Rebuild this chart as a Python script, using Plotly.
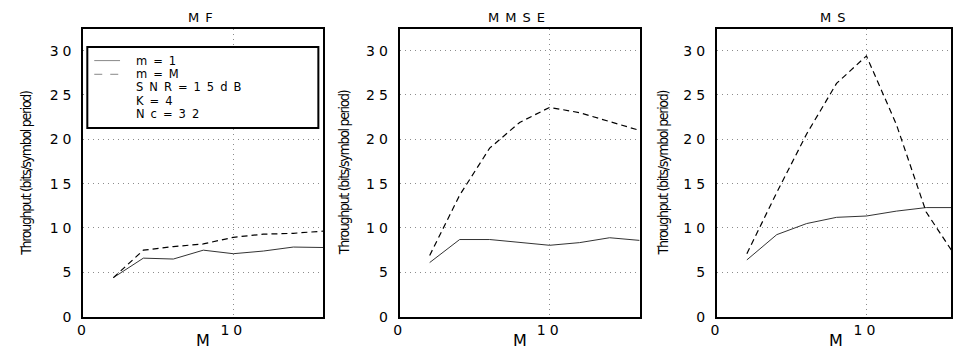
import plotly.graph_objects as go

# ---- data ----
M_vals = [2, 4, 6, 8, 10, 12, 14, 16]
panel_titles = ["MF", "MMSE", "MS"]
mf_m1 = [4.4, 6.6, 6.5, 7.5, 7.1, 7.4, 7.85, 7.8]
mf_mM = [4.4, 7.5, 7.9, 8.2, 8.95, 9.3, 9.4, 9.65]
mmse_m1 = [6.1, 8.7, 8.7, 8.4, 8.05, 8.35, 8.9, 8.6]
mmse_mM = [6.9, 13.7, 19.0, 21.9, 23.6, 23.0, 22.0, 21.0]
ms_m1 = [6.4, 9.25, 10.5, 11.2, 11.35, 11.9, 12.3, 12.3]
ms_mM = [7.1, 14.0, 20.6, 26.3, 29.4, 21.7, 11.8, 6.7]
y_ticks = [0, 5, 10, 15, 20, 25, 30]
x_ticks = [0, 10]
legend_lines = ["m=1", "m=M", "SNR=15dB", "K=4", "Nc=32"]
y_title = "Throughput (bits/symbol period)"
x_title = "M"

W, H = 953, 354
series = [(mf_m1, mf_mM), (mmse_m1, mmse_mM), (ms_m1, ms_mM)]

fig = go.Figure()

def px_x(p):
    return p / W

def px_y(p):
    return 1 - p / H

x_domains = [[px_x(78), px_x(320)], [px_x(397), px_x(639)], [px_x(717), 1.0]]
x_ranges = [[0, 16], [0, 16], [0, 15.66]]
y_dom = [px_y(324), px_y(30)]
y_range = [0, 32.4]

FONT = "DejaVu Sans"
TICKFONT = dict(family=FONT, size=14, color="black")

def spaced(t, ls=3):
    return f'<span style="letter-spacing:{ls}px">{t}</span>'

for i, (s1, s2) in enumerate(series):
    xa = "x" if i == 0 else f"x{i+1}"
    ya = "y" if i == 0 else f"y{i+1}"
    fig.add_trace(go.Scatter(x=M_vals, y=s1, mode="lines", xaxis=xa, yaxis=ya,
                             line=dict(color="#333333", width=1), showlegend=False))
    fig.add_trace(go.Scatter(x=M_vals, y=s2, mode="lines", xaxis=xa, yaxis=ya,
                             line=dict(color="black", width=1.2, dash="6px,4px"),
                             showlegend=False))
    axkey_x = "xaxis" if i == 0 else f"xaxis{i+1}"
    axkey_y = "yaxis" if i == 0 else f"yaxis{i+1}"
    fig.update_layout(**{
        axkey_x: dict(domain=x_domains[i], range=x_ranges[i], anchor=ya,
                      tickvals=x_ticks, ticktext=[spaced(str(v), 4) for v in x_ticks],
                      showline=True, linecolor="black", linewidth=2, mirror=True,
                      showgrid=True, gridcolor="#8c8c8c", gridwidth=1, griddash="1px,4px",
                      zeroline=False, ticks="", tickfont=TICKFONT, ticklabelstandoff=0),
        axkey_y: dict(domain=y_dom, range=y_range, anchor=xa,
                      tickvals=y_ticks, ticktext=[spaced(str(v), 4) for v in y_ticks],
                      showline=True, linecolor="black", linewidth=2, mirror=True,
                      showgrid=True, gridcolor="#8c8c8c", gridwidth=1, griddash="1px,4px",
                      zeroline=False, ticks="", tickfont=TICKFONT, ticklabelstandoff=3),
    })
    cx = (x_domains[i][0] + x_domains[i][1]) / 2
    if i == 2:
        cx = px_x(837)
    # title
    fig.add_annotation(text=spaced(panel_titles[i], 6), xref="paper", yref="paper",
                       x=cx, y=px_y(18), showarrow=False, xanchor="center", yanchor="middle",
                       font=dict(family=FONT, size=13, color="black"))
    # x title
    fig.add_annotation(text=x_title, xref="paper", yref="paper",
                       x=cx, y=px_y(348), showarrow=False, xanchor="center", yanchor="middle",
                       font=dict(family=FONT, size=16, color="black"))
    # y title
    ycx = [20, 341, 663][i]
    fig.add_annotation(text=spaced(y_title, -1.3), xref="paper", yref="paper", textangle=-90,
                       x=px_x(ycx), y=px_y(177), showarrow=False,
                       xanchor="center", yanchor="middle",
                       font=dict(family="Liberation Sans Narrow, DejaVu Sans Condensed", size=14,
                                 color="black"))

# legend box (first panel)
fig.add_shape(type="rect", xref="paper", yref="paper",
              x0=px_x(82), x1=px_x(315), y0=px_y(131), y1=px_y(48),
              line=dict(color="black", width=2), fillcolor="white", layer="above")
row_y = [62, 76, 89.5, 103, 117]
fig.add_shape(type="line", xref="paper", yref="paper", x0=px_x(89), x1=px_x(115),
              y0=px_y(row_y[0]), y1=px_y(row_y[0]), line=dict(color="#888888", width=1))
fig.add_shape(type="line", xref="paper", yref="paper", x0=px_x(89), x1=px_x(115),
              y0=px_y(row_y[1]), y1=px_y(row_y[1]),
              line=dict(color="#888888", width=1, dash="8px,8px"))
for t, ry in zip(legend_lines, row_y):
    fig.add_annotation(text=spaced(t, 6), xref="paper", yref="paper", x=px_x(129), y=px_y(ry),
                       showarrow=False, xanchor="left", yanchor="middle",
                       font=dict(family=FONT, size=11.5, color="black"))

fig.update_layout(width=W, height=H, autosize=False,
                  margin=dict(l=0, r=0, t=0, b=0),
                  paper_bgcolor="white", plot_bgcolor="white", showlegend=False)

fig.write_html("out.html")
